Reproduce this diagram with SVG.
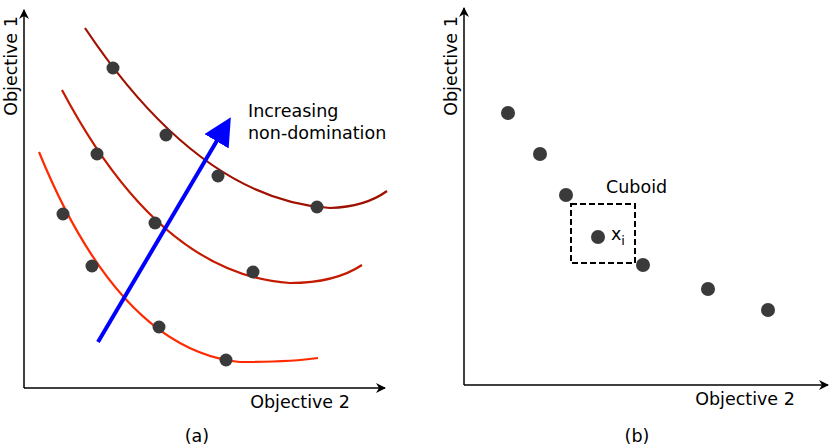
<svg xmlns="http://www.w3.org/2000/svg" width="830" height="447" viewBox="0 0 830 447">
<defs>
<marker id="ah" viewBox="0 0 10 10" refX="9" refY="5" markerWidth="10" markerHeight="10" markerUnits="userSpaceOnUse" orient="auto"><path d="M0,0 L10,5 L0,10 L3,5 z" fill="#000"/></marker>
<marker id="ab" viewBox="0 0 10 10" refX="8" refY="5" markerWidth="7" markerHeight="7" orient="auto"><path d="M0,0 L10,5 L0,10 z" fill="#0000ff"/></marker>
<style>
.ax{stroke:#000;stroke-width:1.5;fill:none}
.t{font-family:"DejaVu Sans",sans-serif;font-size:17.5px;fill:#000}
.c{fill:none;stroke-width:2.2}
.d{fill:#3a3a3a}
</style>
</defs>
<g id="axes">
<path class="ax" d="M24,388 L24,10" marker-end="url(#ah)"/>
<path class="ax" d="M24,388 L385,388" marker-end="url(#ah)"/>
<path class="ax" d="M464,385 L464,8" marker-end="url(#ah)"/>
<path class="ax" d="M464,385 L828,385" marker-end="url(#ah)"/>
</g>
<g id="labels">
<text class="t" transform="translate(17,66) rotate(-90)" text-anchor="middle">Objective 1</text>
<text class="t" x="300" y="408" text-anchor="middle">Objective 2</text>
<text class="t" x="197" y="442" text-anchor="middle" font-size="21">(a)</text>
<text class="t" transform="translate(457,66) rotate(-90)" text-anchor="middle">Objective 1</text>
<text class="t" x="745" y="405" text-anchor="middle">Objective 2</text>
<text class="t" x="637" y="442" text-anchor="middle" font-size="21">(b)</text>
</g>
<g id="curves">
<path class="c" stroke="#a01000" d="M85,28 Q200,200 330,208 Q365,207 387,191"/>
<path class="c" stroke="#c41a00" d="M62,90 Q160,275 290,283 Q335,283 362,265"/>
<path class="c" stroke="#ff2a00" d="M39,152 Q120,350 240,362 Q290,362 318,358"/>
</g>
<g id="dots-a">
<circle class="d" cx="113" cy="68" r="6.5"/><circle class="d" cx="166" cy="135" r="6.5"/><circle class="d" cx="218" cy="176" r="6.5"/><circle class="d" cx="317" cy="207" r="6.5"/>
<circle class="d" cx="97" cy="154" r="6.5"/><circle class="d" cx="155" cy="223" r="6.5"/><circle class="d" cx="253" cy="272" r="6.5"/>
<circle class="d" cx="63" cy="214" r="6.5"/><circle class="d" cx="92" cy="266" r="6.5"/><circle class="d" cx="159" cy="327" r="6.5"/><circle class="d" cx="226" cy="360" r="6.5"/>
</g>
<g id="arrow">
<path d="M98,342 L228,122" stroke="#0000ff" stroke-width="4" fill="none" marker-end="url(#ab)"/>
<text class="t" x="248" y="117">Increasing</text>
<text class="t" x="248" y="139">non-domination</text>
</g>
<g id="panel-b">
<rect x="571" y="204" width="64" height="59" fill="none" stroke="#000" stroke-width="2" stroke-dasharray="6,3"/>
<text class="t" x="606" y="193">Cuboid</text>
<text class="t" x="611" y="240" font-size="20">x<tspan font-size="13" dy="5">i</tspan></text>
<circle class="d" cx="508" cy="113" r="7"/><circle class="d" cx="540" cy="154" r="7"/><circle class="d" cx="566" cy="195" r="7"/><circle class="d" cx="598" cy="237" r="7"/><circle class="d" cx="643" cy="265" r="7"/><circle class="d" cx="708" cy="289" r="7"/><circle class="d" cx="768" cy="310" r="7"/>
</g>
</svg>
